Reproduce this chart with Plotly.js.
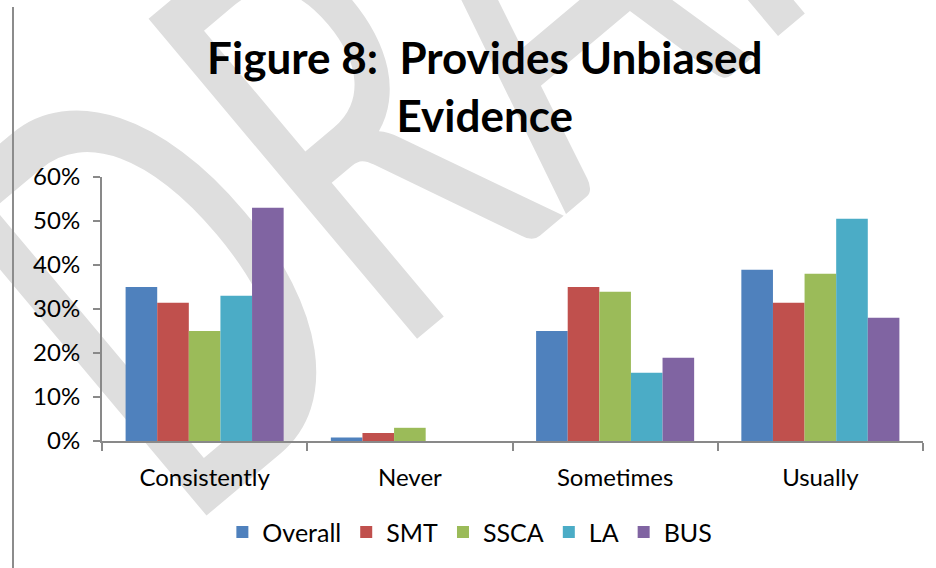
<!DOCTYPE html>
<html>
<head>
<meta charset="utf-8">
<script src="https://cdn.plot.ly/plotly-3.0.1.min.js"></script>
<style>
  html, body { margin: 0; padding: 0; background: #ffffff; overflow: hidden; }
  #wrap { position: relative; width: 936px; height: 568px; overflow: hidden; background: #ffffff; }
  #wm { position: absolute; left: 482px; top: -10px;
        transform: translate(-50%, -50%) rotate(-40deg) scale(0.62, 1);
        font-family: Lato, sans-serif; font-weight: normal; font-size: 583px; line-height: 1;
        color: #dedede; white-space: nowrap; z-index: 0; }
  #margin { position: absolute; left: 12px; top: 7px; width: 2px; height: 561px; background: #8c8c8c; z-index: 1; }
  #chart { position: absolute; left: 0; top: 0; width: 936px; height: 568px; z-index: 2; }
</style>
</head>
<body>
<div id="wrap">
  <div id="wm">DRAFT</div>
  <div id="margin"></div>
  <div id="chart"></div>
</div>
<script>
const categories = ["Consistently", "Never", "Sometimes", "Usually"];
const seriesNames = ["Overall", "SMT", "SSCA", "LA", "BUS"];
const overall = [0.35, 0.008, 0.25, 0.389];
const smt     = [0.314, 0.018, 0.35, 0.314];
const ssca    = [0.25, 0.03, 0.339, 0.38];
const la      = [0.33, 0, 0.155, 0.505];
const bus     = [0.53, 0, 0.189, 0.28];
const colors = ["#4F81BD", "#C0504D", "#9BBB59", "#4BACC6", "#8064A2"];
const yTickVals = [0, 0.1, 0.2, 0.3, 0.4, 0.5, 0.6];

const values = [overall, smt, ssca, la, bus];
const traces = seriesNames.map((name, i) => ({
  type: "bar",
  name: name,
  x: categories,
  y: values[i],
  marker: { color: colors[i], line: { width: 0 } },
  hoverinfo: "skip"
}));

const tickFont = { family: "Lato, 'Open Sans', sans-serif", size: 24, color: "#000000" };
const legendFont = { family: "Lato, 'Open Sans', sans-serif", size: 25, color: "#000000" };

const layout = {
  width: 936,
  height: 568,
  margin: { l: 102, r: 13, t: 177, b: 127, pad: 0 },
  paper_bgcolor: "rgba(0,0,0,0)",
  plot_bgcolor: "rgba(0,0,0,0)",
  font: tickFont,
  barmode: "group",
  bargap: 0.23,
  bargroupgap: 0,
  title: {
    text: "Figure 8:&nbsp; Provides Unbiased<br>Evidence",
    font: { family: "Lato, sans-serif", size: 44, color: "#000000", weight: "bold" },
    xref: "container", x: 0.518, xanchor: "center",
    yref: "container", y: 0.869, yanchor: "top"
  },
  xaxis: {
    type: "category",
    showgrid: false,
    showline: true, linecolor: "#898989", linewidth: 2,
    ticks: "outside", tickson: "boundaries", ticklen: 8, tickwidth: 2, tickcolor: "#898989",
    tickfont: tickFont,
    ticklabelstandoff: 14,
    zeroline: false,
    fixedrange: true
  },
  yaxis: {
    range: [0, 0.6],
    tickvals: yTickVals,
    tickformat: ".0%",
    showgrid: false,
    showline: true, linecolor: "#898989", linewidth: 2,
    ticks: "outside", ticklen: 7, tickwidth: 2, tickcolor: "#898989",
    tickfont: tickFont,
    ticklabelstandoff: 8,
    zeroline: false,
    fixedrange: true
  },
  legend: {
    orientation: "h",
    x: 0.502, xref: "container", xanchor: "center",
    y: 0.063, yref: "container", yanchor: "middle",
    font: legendFont,
    bgcolor: "rgba(0,0,0,0)",
    itemclick: false, itemdoubleclick: false
  },
  showlegend: true
};

Plotly.newPlot("chart", traces, layout, { staticPlot: true, displayModeBar: false });
</script>
</body>
</html>
